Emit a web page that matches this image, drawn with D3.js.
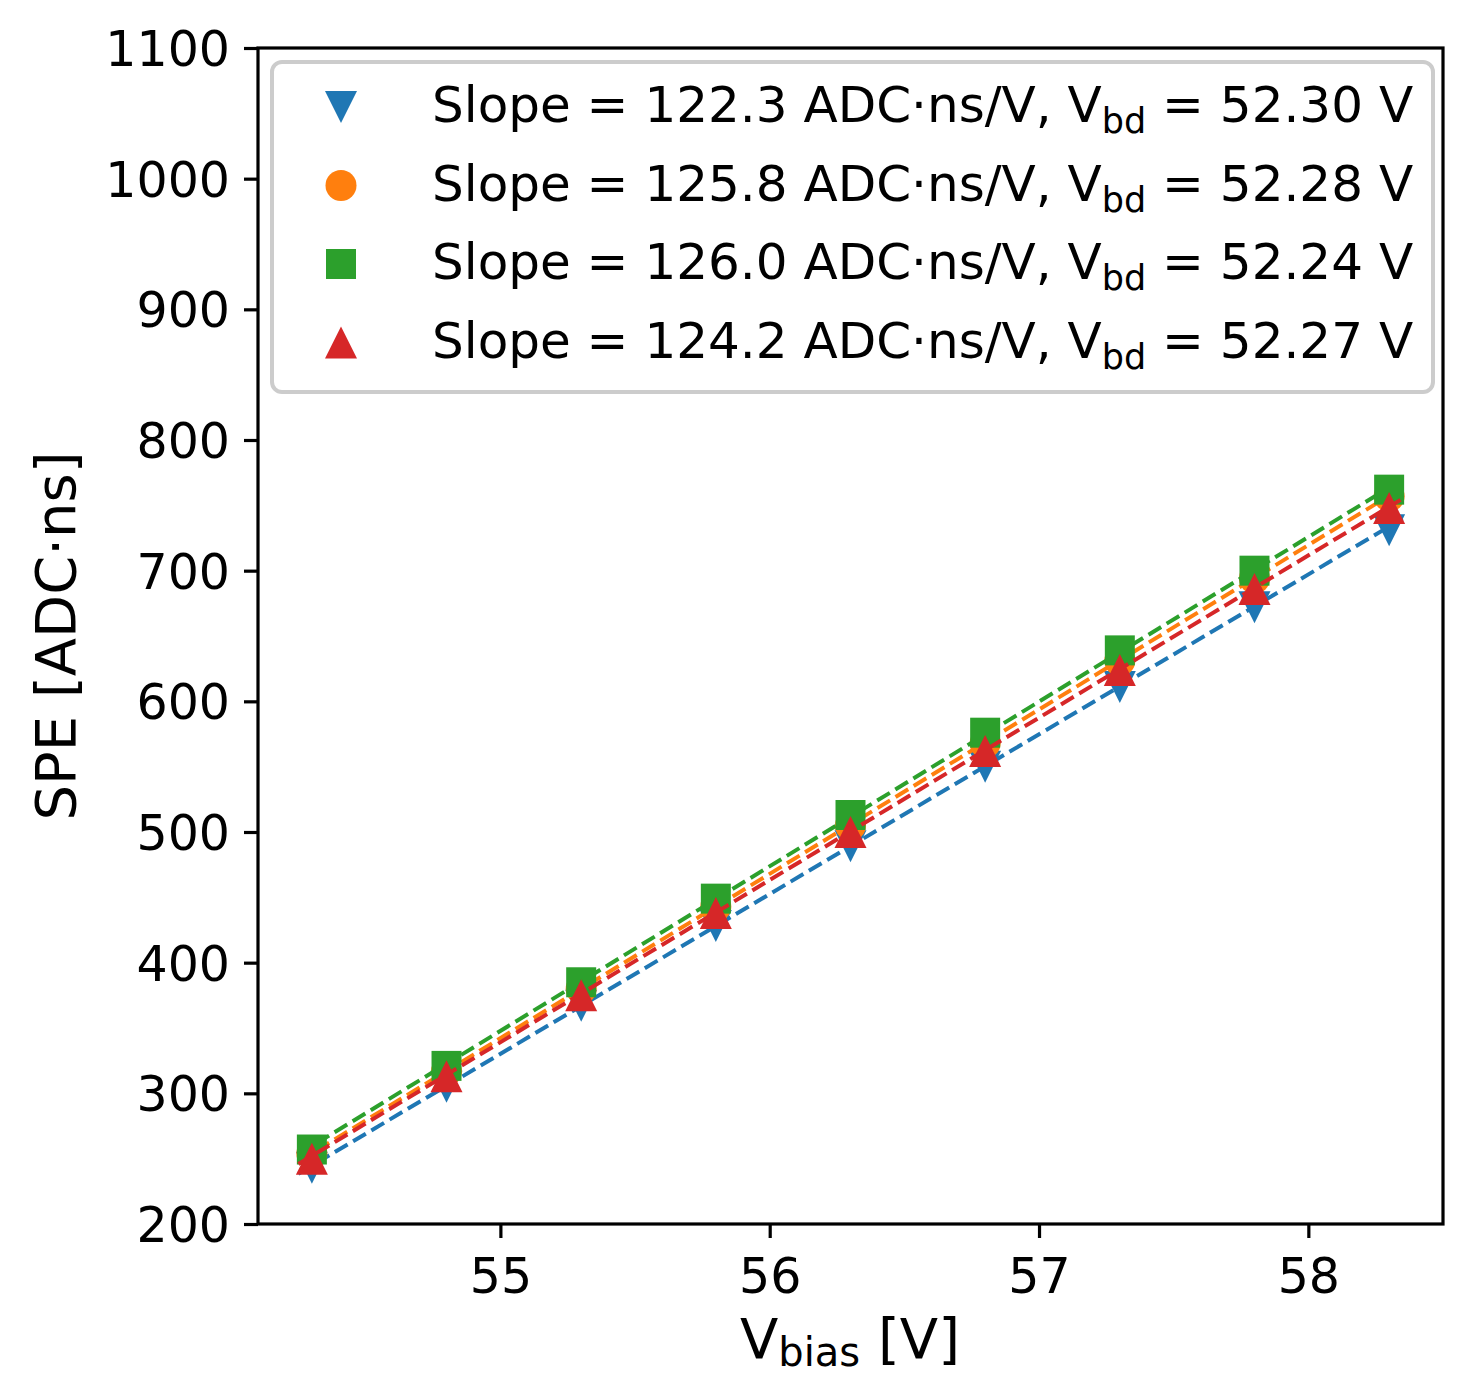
<!DOCTYPE html>
<html>
<head>
<meta charset="utf-8">
<script src="https://cdn.jsdelivr.net/npm/d3@7"></script>
<style>
body { margin: 0; background: #fff; }
text { font-family: "DejaVu Sans", sans-serif; fill: #000; }
</style>
</head>
<body>
<svg id="chart" width="1475" height="1376"></svg>
<script>
// bias voltage points
var vbias = [54.3, 54.8, 55.3, 55.8, 56.3, 56.8, 57.3, 57.8, 58.3];

// SPE values per channel
var speBlue   = [243, 305, 367, 428, 489, 550, 611, 672, 731];
var speOrange = [254, 317, 380, 443, 505, 568, 631, 694, 757];
var speGreen  = [257, 321, 385, 449, 513, 576, 639, 700, 762];
var speRed    = [250, 313, 375, 438, 500, 562, 624, 686, 748];

// fit results (from legend)
var slopes = [122.3, 125.8, 126.0, 124.2];
var vbds = [52.30, 52.28, 52.24, 52.27];
var slopeLabels = ["122.3", "125.8", "126.0", "124.2"];
var vbdLabels = ["52.30", "52.28", "52.24", "52.27"];
var fitRange = [54.25, 58.35];

var xTicks = [55, 56, 57, 58];
var yTicks = [200, 300, 400, 500, 600, 700, 800, 900, 1000, 1100];

var colors = ["#1f77b4", "#ff7f0e", "#2ca02c", "#d62728"];
var shapes = ["down", "circle", "square", "up"];

var series = [speBlue, speOrange, speGreen, speRed].map(function (vals, i) {
	return {
		vals: vals, color: colors[i], shape: shapes[i],
		slope: slopes[i], vbd: vbds[i],
		slopeLabel: slopeLabels[i], vbdLabel: vbdLabels[i]
	};
});

var m = {left: 258, right: 1443, top: 48, bottom: 1224};

var svg = d3.select("#chart");

var x = d3.scaleLinear().domain([54.1, 58.5]).range([m.left, m.right]);
var y = d3.scaleLinear().domain([200, 1100]).range([m.bottom, m.top]);

function markerPath(shape) {
	var h = 16, s = 15;
	if (shape == "up") return "M0," + (-h) + "L" + (-h) + "," + h + "L" + h + "," + h + "Z";
	if (shape == "down") return "M0," + h + "L" + (-h) + "," + (-h) + "L" + h + "," + (-h) + "Z";
	if (shape == "square") return "M" + (-s) + "," + (-s) + "h" + (2*s) + "v" + (2*s) + "h" + (-2*s) + "Z";
	var r = 15.5;
	return "M" + r + ",0A" + r + "," + r + " 0 1,1 " + (-r) + ",0A" + r + "," + r + " 0 1,1 " + r + ",0Z";
}

var plot = svg.append("g");

series.forEach(function (s) {
	var fitPts = fitRange.map(function (v) { return [v, s.slope * (v - s.vbd)]; });
	plot.append("path")
		.attr("d", d3.line().x(function (d) { return x(d[0]); }).y(function (d) { return y(d[1]); })(fitPts))
		.attr("fill", "none")
		.attr("stroke", s.color)
		.attr("stroke-width", 4)
		.attr("stroke-dasharray", "14.8,6.4");

	plot.selectAll(null)
		.data(s.vals).enter().append("path")
		.attr("transform", function (d, i) { return "translate(" + x(vbias[i]) + "," + y(d) + ")"; })
		.attr("d", markerPath(s.shape))
		.attr("fill", s.color);
});

// axes
var xAxis = svg.append("g").attr("transform", "translate(0," + m.bottom + ")")
	.call(d3.axisBottom(x).tickValues(xTicks).tickSize(14).tickPadding(20).tickFormat(d3.format("d")));
var yAxis = svg.append("g").attr("transform", "translate(" + m.left + ",0)")
	.call(d3.axisLeft(y).tickValues(yTicks).tickSize(14).tickPadding(14).tickFormat(d3.format("d")));

[xAxis, yAxis].forEach(function (a) {
	a.select(".domain").remove();
	a.selectAll(".tick line").attr("stroke", "#000").attr("stroke-width", 3.2);
	a.selectAll(".tick text").style("font-size", "49px").attr("fill", "#000");
});
xAxis.selectAll(".tick text").attr("dy", "0.71em");
yAxis.selectAll(".tick text").attr("dy", "0.36em");

svg.append("rect")
	.attr("x", m.left).attr("y", m.top)
	.attr("width", m.right - m.left).attr("height", m.bottom - m.top)
	.attr("fill", "none").attr("stroke", "#000").attr("stroke-width", 3.2);

// axis labels
var xl = svg.append("text")
	.attr("x", 850).attr("y", 1358)
	.attr("text-anchor", "middle")
	.style("font-size", "56px");
xl.append("tspan").text("V");
xl.append("tspan").attr("dy", 8).style("font-size", "40px").text("bias");
xl.append("tspan").attr("dy", -8).text(" [V]");

svg.append("text")
	.attr("transform", "translate(75,636) rotate(-90)")
	.attr("text-anchor", "middle")
	.style("font-size", "56px")
	.text("SPE [ADC\u00b7ns]");

// legend
var legend = svg.append("g");
legend.append("rect")
	.attr("x", 272).attr("y", 62)
	.attr("width", 1161).attr("height", 330)
	.attr("rx", 10)
	.attr("fill", "#fff").attr("fill-opacity", 0.8)
	.attr("stroke", "#cccccc").attr("stroke-width", 4);

var rows = legend.selectAll("g.row")
	.data(series).enter().append("g")
	.attr("class", "row")
	.attr("transform", function (d, i) { return "translate(0," + (122 + i * 78.5) + ")"; });

rows.append("path")
	.attr("transform", "translate(341,-15)")
	.attr("d", function (d) { return markerPath(d.shape); })
	.attr("fill", function (d) { return d.color; });

var lt = rows.append("text")
	.attr("x", 432).attr("y", 0)
	.style("font-size", "50px");
lt.append("tspan").text(function (d) { return "Slope = " + d.slopeLabel + " ADC\u00b7ns/V, V"; });
lt.append("tspan").attr("dy", 11).style("font-size", "35px").text("bd");
lt.append("tspan").attr("dy", -11).text(function (d) { return " = " + d.vbdLabel + " V"; });
</script>
</body>
</html>
